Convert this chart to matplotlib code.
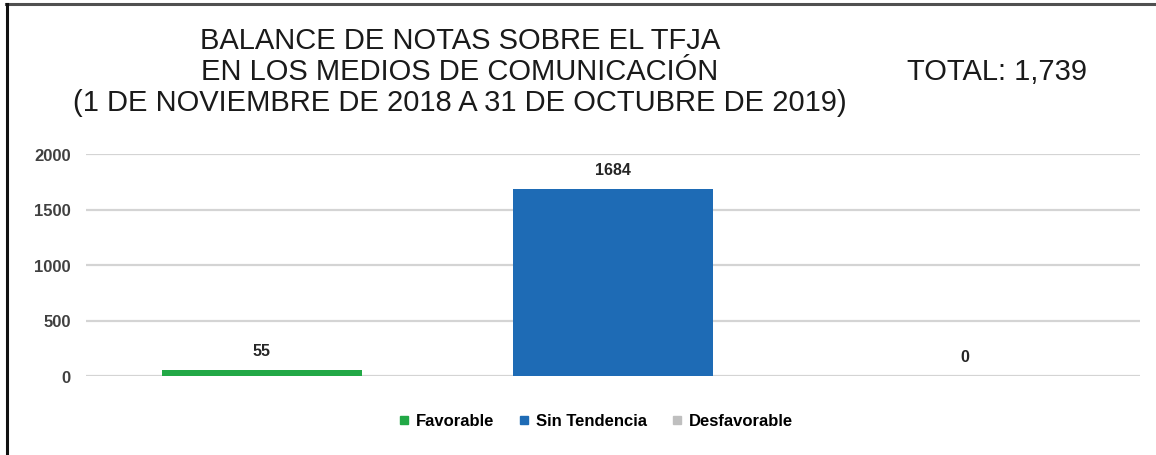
import matplotlib
matplotlib.use("Agg")
import matplotlib.pyplot as plt
from matplotlib.lines import Line2D

plt.rcParams['font.family'] = ['Liberation Sans', 'DejaVu Sans']

categorias = ["Favorable", "Sin Tendencia", "Desfavorable"]
valores = [55, 1684, 0]
colores = ["#22A846", "#1E6BB5", "#BFBFBF"]
yticks = [0, 500, 1000, 1500, 2000]
titulo = ["BALANCE DE NOTAS SOBRE EL TFJA",
          "EN LOS MEDIOS DE COMUNICACIÓN",
          "(1 DE NOVIEMBRE DE 2018 A 31 DE OCTUBRE DE 2019)"]
total = "TOTAL: 1,739"

fig = plt.figure(figsize=(11.56, 4.56), dpi=100)
ax = fig.add_axes([86 / 1156, 1 - 377 / 456, (1140 - 86) / 1156, (377 - 155) / 456])

x = range(len(categorias))
bars = ax.bar(x, valores, width=0.57, color=colores, zorder=3)
for b, v in zip(bars, valores):
    ax.text(b.get_x() + b.get_width() / 2, v + 175, str(v), ha="center", va="center",
            fontsize=11.5, fontweight="bold", color="#262626")

ax.set_xlim(-0.5, 2.5)
ax.set_ylim(0, 2000)
ax.set_yticks(yticks)
ax.set_yticklabels([str(t) for t in yticks], fontsize=12, fontweight="bold", color="#404040")
ax.set_xticks([])
ax.tick_params(axis="y", length=0, pad=11)
ax.grid(axis="y", color="#D4D4D4", linewidth=1.6, zorder=0)
for s in ax.spines.values():
    s.set_visible(False)

handles = [Line2D([], [], marker="s", linestyle="", markersize=5.5, color=c) for c in colores]
fig.legend(handles, categorias, loc="center", bbox_to_anchor=(596 / 1156, 1 - 422 / 456),
           ncol=3, frameon=False, handlelength=0.6, handletextpad=0.4, columnspacing=1.5,
           prop={"weight": "bold", "size": 12})

for i, linea in enumerate(titulo):
    fig.text(460 / 1156, 1 - (41 + 31 * i) / 456, linea, ha="center", va="center",
             fontsize=21, color="#1a1a1a")
fig.text(997 / 1156, 1 - 72 / 456, total, ha="center", va="center", fontsize=21, color="#1a1a1a")

# marco
fig.add_artist(Line2D([6 / 1156, 1], [1 - 5 / 456, 1 - 5 / 456], transform=fig.transFigure,
                      color="#505050", linewidth=2.2))
fig.add_artist(Line2D([6.5 / 1156, 6.5 / 1156], [0, 1 - 5 / 456], transform=fig.transFigure,
                      color="#111111", linewidth=2.2))

fig.savefig("out.png", dpi=100)
